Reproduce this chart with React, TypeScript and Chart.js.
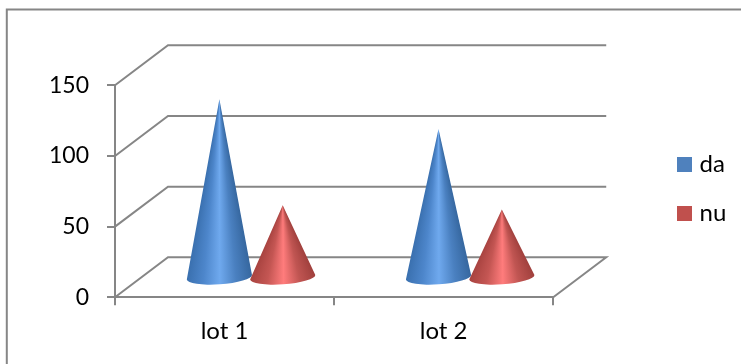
import React, { useEffect, useRef } from "react";
import { Chart, BarController, BarElement, registerables } from "chart.js";

const categories = ["lot 1", "lot 2"];
const daValues = [126, 105];
const nuValues = [51, 48];
const valueTicks = [0, 50, 100, 150];

const DA_COLOR = "#4F81BD";
const NU_COLOR = "#C0504D";
const LINE_COLOR = "#868686";
const FONT_FAMILY = "Lato, 'Open Sans', sans-serif";
const FONT_SIZE = 24;

// Oblique projection of the floor: how far the back wall sits from the front plane.
const DEPTH_X = 53;
const DEPTH_Y = 40;

// Shading around each cone, from its right silhouette to its left one.
const SHADES: Record<string, string[]> = {
  [DA_COLOR]: ["#36679F", "#4A80C0", "#6FA9EE", "#4D86CB", "#3A70AF"],
  [NU_COLOR]: ["#A0403D", "#C05552", "#FF7C7C", "#C45653", "#A84340"],
};

class ConeElement extends BarElement {
  static id = "cone";

  draw(ctx: CanvasRenderingContext2D) {
    const { x, y, base, width } = this as any;
    const color = (this as any).options.backgroundColor as string;
    const cx = x + DEPTH_X / 2;
    const cy = base - DEPTH_Y / 2 + 1;
    const apexY = y - DEPTH_Y / 2;
    const rx = width / 2 + 1;
    const ry = 7;
    const tilt = -0.07;
    const rightX = cx + rx * Math.cos(tilt);
    const rightY = cy + rx * Math.sin(tilt);
    const leftX = cx - rx * Math.cos(tilt);
    const leftY = cy - rx * Math.sin(tilt);
    const startAngle = Math.atan2(rightY - apexY, rightX - cx);
    const endAngle = Math.atan2(leftY - apexY, leftX - cx);
    const sweep = (endAngle - startAngle) / (2 * Math.PI);

    const shading = ctx.createConicGradient(startAngle, cx, apexY);
    const stops = SHADES[color];
    stops.forEach((stop, i) => shading.addColorStop((sweep * i) / (stops.length - 1), stop));
    shading.addColorStop(Math.min(1, sweep + 0.001), stops[stops.length - 1]);

    ctx.save();
    ctx.fillStyle = shading;
    ctx.beginPath();
    ctx.moveTo(cx, apexY);
    ctx.lineTo(leftX, leftY);
    ctx.ellipse(cx, cy, rx, ry, tilt, Math.PI, 0, true);
    ctx.closePath();
    ctx.fill();
    ctx.restore();
  }
}

class ConeController extends BarController {
  static id = "cone";
  static defaults = { ...(BarController as any).defaults, dataElementType: "cone" };
  static overrides = (BarController as any).overrides;

  // Cones are painted by the plugin below, so that later series overlap earlier ones.
  draw() {}
}

Chart.register(...registerables, ConeElement as any, ConeController as any);

const chartFrame = {
  id: "chartFrame",
  beforeDraw(chart: any) {
    const { ctx } = chart;
    ctx.save();
    ctx.strokeStyle = LINE_COLOR;
    ctx.lineWidth = 2;
    ctx.beginPath();
    ctx.moveTo(6.8, chart.height + 2);
    ctx.lineTo(6.8, 9.4);
    ctx.lineTo(chart.width + 2, 9.4);
    ctx.stroke();
    ctx.restore();
  },
};

const backWall = {
  id: "backWall",
  beforeDatasetsDraw(chart: any) {
    const { ctx, chartArea, scales } = chart;
    ctx.save();
    ctx.strokeStyle = LINE_COLOR;
    ctx.lineWidth = 2;
    valueTicks.forEach((value) => {
      const py = scales.y.getPixelForValue(value);
      ctx.beginPath();
      ctx.moveTo(chartArea.left, py);
      ctx.lineTo(chartArea.left + DEPTH_X, py - DEPTH_Y);
      ctx.lineTo(chartArea.right + DEPTH_X, py - DEPTH_Y);
      if (value === 0) ctx.lineTo(chartArea.right, py);
      ctx.stroke();
    });
    ctx.restore();
  },
};

const paintCones = {
  id: "paintCones",
  afterDatasetsDraw(chart: any) {
    chart.getSortedVisibleDatasetMetas().forEach((meta: any) => {
      meta.data.forEach((cone: any) => cone.draw(chart.ctx));
    });
  },
};

// Keeps the legend beside the plot, clear of the floor's depth.
const placeLegend = {
  id: "placeLegend",
  afterLayout(chart: any) {
    const legend = chart.legend;
    const w = legend.right - legend.left;
    const h = legend.bottom - legend.top;
    legend.left = 656.5;
    legend.right = 656.5 + w;
    legend.top = 127;
    legend.bottom = 127 + h;
  },
};

function legendSwatch(color: string) {
  const swatch = document.createElement("canvas");
  swatch.width = 15;
  swatch.height = 15;
  const ctx = swatch.getContext("2d")!;
  ctx.fillStyle = color;
  ctx.fillRect(0, 0, 15, 15);
  return swatch;
}

export default function App() {
  const canvasRef = useRef<HTMLCanvasElement>(null);

  useEffect(() => {
    const chart = new Chart(canvasRef.current!, {
      type: "cone" as any,
      data: {
        labels: categories,
        datasets: [
          { label: "da", data: daValues, backgroundColor: DA_COLOR },
          { label: "nu", data: nuValues, backgroundColor: NU_COLOR },
        ],
      },
      options: {
        responsive: false,
        animation: false,
        layout: { padding: { left: 0, top: 85.3, right: 108, bottom: 0 } },
        datasets: { cone: { categoryPercentage: 0.578, barPercentage: 1 } } as any,
        plugins: {
          tooltip: { enabled: false },
          legend: {
            position: "right",
            align: "start",
            labels: {
              usePointStyle: true,
              pointStyleWidth: 6,
              boxHeight: 15,
              padding: 25,
              color: "#000000",
              font: { family: FONT_FAMILY, size: FONT_SIZE },
              generateLabels(c: any) {
                return (Chart.defaults.plugins.legend.labels as any).generateLabels(c).map((item: any) => ({
                  ...item,
                  pointStyle: legendSwatch(item.fillStyle),
                }));
              },
            },
          },
        },
        scales: {
          x: {
            type: "category",
            offset: true,
            afterFit(scale: any) {
              scale.height = 66.7;
            },
            grid: { offset: true, drawOnChartArea: false, color: LINE_COLOR, lineWidth: 2, tickLength: 8 },
            border: { color: LINE_COLOR, width: 2 },
            ticks: { color: "#000000", padding: 12, font: { family: FONT_FAMILY, size: FONT_SIZE } },
          },
          y: {
            type: "linear",
            min: 0,
            max: 150,
            afterFit(scale: any) {
              scale.width = 115;
            },
            grid: { drawOnChartArea: false, color: LINE_COLOR, lineWidth: 2, tickLength: 8 },
            border: { color: LINE_COLOR, width: 2 },
            ticks: { stepSize: 50, color: "#000000", padding: 18, font: { family: FONT_FAMILY, size: 23 } },
          },
        },
      },
      plugins: [chartFrame, backWall, paintCones, placeLegend],
    } as any);
    return () => chart.destroy();
  }, []);

  return (
    <canvas
      ref={canvasRef}
      width={741}
      height={364}
      style={{ position: "absolute", left: 0, top: 0, display: "block" }}
    />
  );
}
